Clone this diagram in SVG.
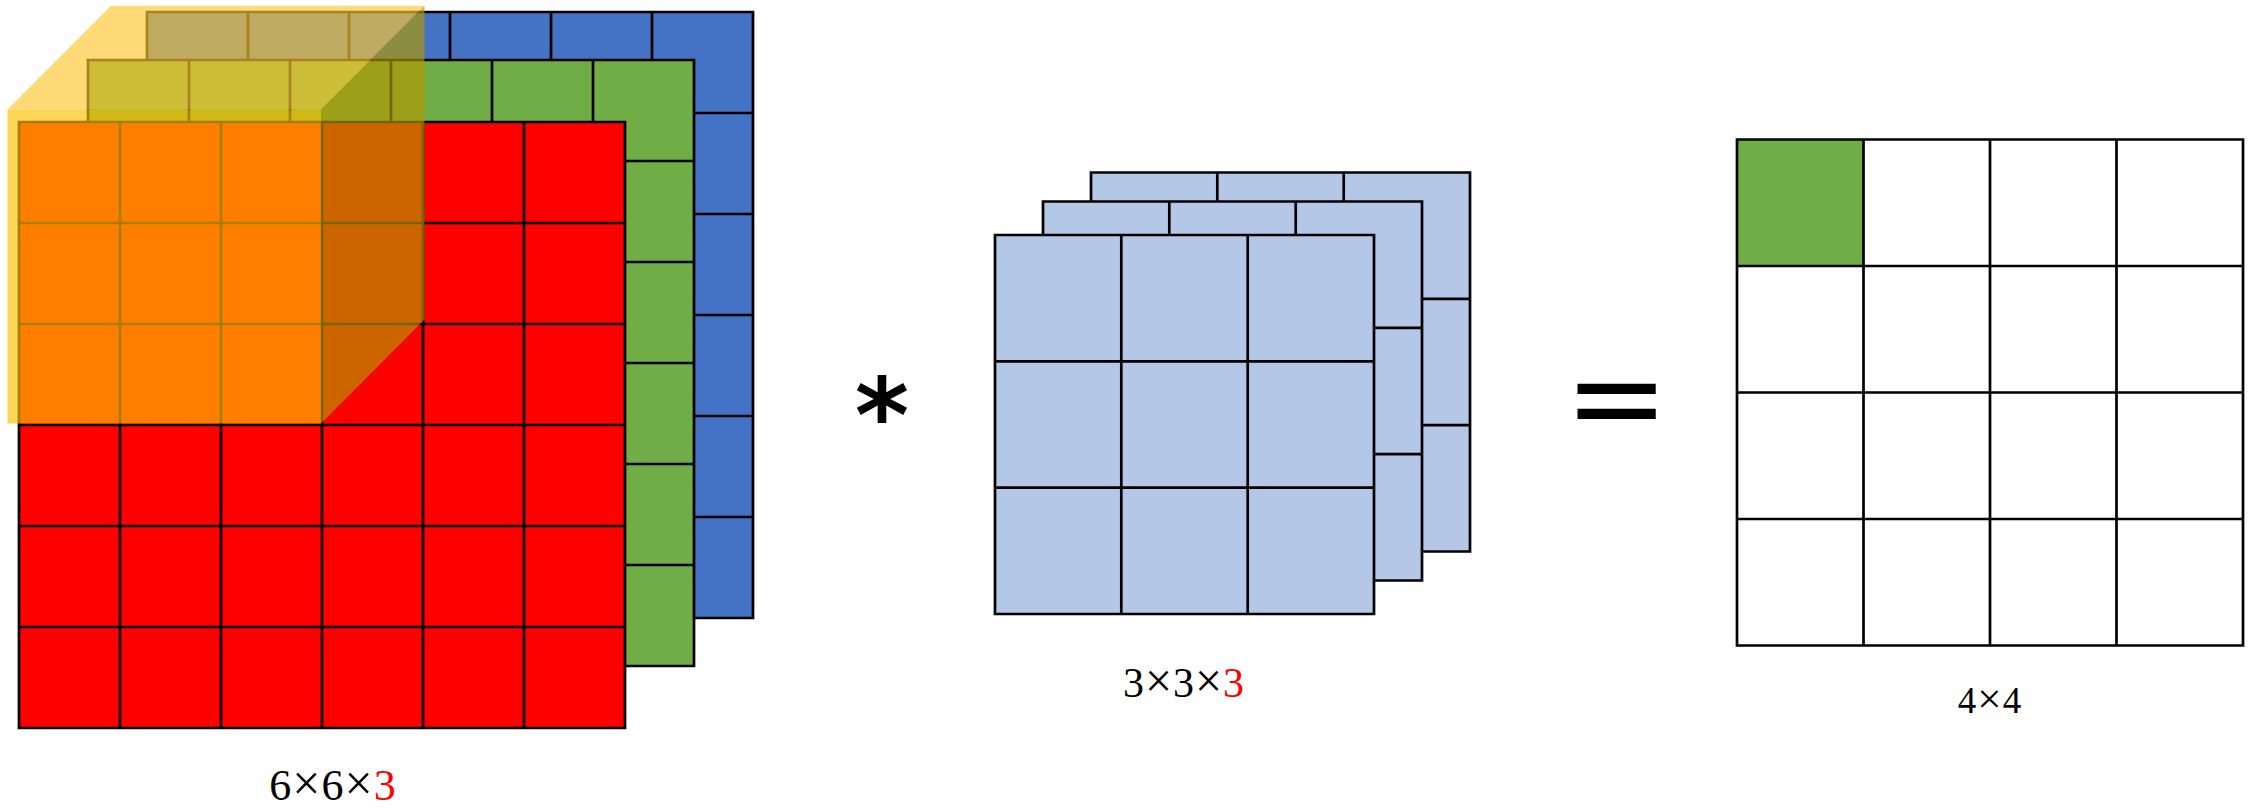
<svg xmlns="http://www.w3.org/2000/svg" width="2254" height="808" viewBox="0 0 2254 808">
<style>
.g{stroke:#000;stroke-width:2.7;fill:none}
.blue{fill:#4472C4}
.green{fill:#70AD47}
.red{fill:#FF0000}
.kern{fill:#B4C7E7}
.lbl{font-family:"Liberation Serif",serif;fill:#000;text-anchor:middle}
.r{fill:#FF0000}
.sym{font-family:"DejaVu Sans",sans-serif;fill:#000;text-anchor:middle}
</style>
<rect width="2254" height="808" fill="#fff"/>

<g id="input-blue">
<rect class="blue" x="147" y="12" width="606" height="606"/>
<path class="g" d="M147,12H753V618H147Z M248,12V618 M349,12V618 M450,12V618 M551,12V618 M652,12V618 M147,113H753 M147,214H753 M147,315H753 M147,416H753 M147,517H753"/>
</g>
<g id="input-green">
<rect class="green" x="88" y="60" width="606" height="606"/>
<path class="g" d="M88,60H694V666H88Z M189,60V666 M290,60V666 M391,60V666 M492,60V666 M593,60V666 M88,161H694 M88,262H694 M88,363H694 M88,464H694 M88,565H694"/>
</g>
<g id="input-red">
<rect class="red" x="19" y="122" width="606" height="606"/>
<path class="g" d="M19,122H625V728H19Z M120,122V728 M221,122V728 M322,122V728 M423,122V728 M524,122V728 M19,223H625 M19,324H625 M19,425H625 M19,526H625 M19,627H625"/>
</g>
<g id="receptive-field">
<polygon points="7.5,109.5 111,5.7 424.5,5.7 321,109.5" fill="#FFC72F" fill-opacity="0.66"/>
<polygon points="7.5,109.5 321,109.5 321,423.5 7.5,423.5" fill="#FFC000" fill-opacity="0.66"/>
<polygon points="321,109.5 424.5,5.7 424.5,319.5 321,423.5" fill="#B29A00" fill-opacity="0.66"/>
</g>
<g id="label-input">
<text class="lbl" x="333" y="800" font-size="44" letter-spacing="1">6<tspan font-size="50">×</tspan>6<tspan font-size="50">×</tspan><tspan class="r">3</tspan></text>
</g>

<g id="op-conv">
<text class="sym" x="882" y="452" font-size="104" font-weight="bold">*</text>
</g>

<g id="kernel-back">
<rect class="kern" x="1091" y="172.5" width="379" height="379"/>
<path class="g" d="M1091,172.5H1470V551.5H1091Z M1217.3,172.5V551.5 M1343.7,172.5V551.5 M1091,298.8H1470 M1091,425.2H1470"/>
</g>
<g id="kernel-middle">
<rect class="kern" x="1043" y="201.5" width="379" height="379"/>
<path class="g" d="M1043,201.5H1422V580.5H1043Z M1169.3,201.5V580.5 M1295.7,201.5V580.5 M1043,327.8H1422 M1043,454.2H1422"/>
</g>
<g id="kernel-front">
<rect class="kern" x="995" y="235" width="379" height="379"/>
<path class="g" d="M995,235H1374V614H995Z M1121.3,235V614 M1247.7,235V614 M995,361.3H1374 M995,487.7H1374"/>
</g>
<g id="label-kernel">
<text class="lbl" x="1184" y="697" font-size="42" letter-spacing="1">3<tspan font-size="48">×</tspan>3<tspan font-size="48">×</tspan><tspan class="r">3</tspan></text>
</g>

<g id="op-equals">
<text class="sym" x="1616.5" y="440" font-size="125">=</text>
</g>

<g id="output">
<rect x="1737" y="139.5" width="126.5" height="126.5" fill="#70AD47"/>
<path class="g" stroke-width="2.5" d="M1737,139.5H2243V645.5H1737Z M1863.5,139.5V645.5 M1990,139.5V645.5 M2116.5,139.5V645.5 M1737,266H2243 M1737,392.5H2243 M1737,519H2243"/>
</g>
<g id="label-output">
<text class="lbl" x="1990" y="713" font-size="37" letter-spacing="1">4<tspan font-size="43">×</tspan>4</text>
</g>
<g id="connectors"></g>
</svg>
